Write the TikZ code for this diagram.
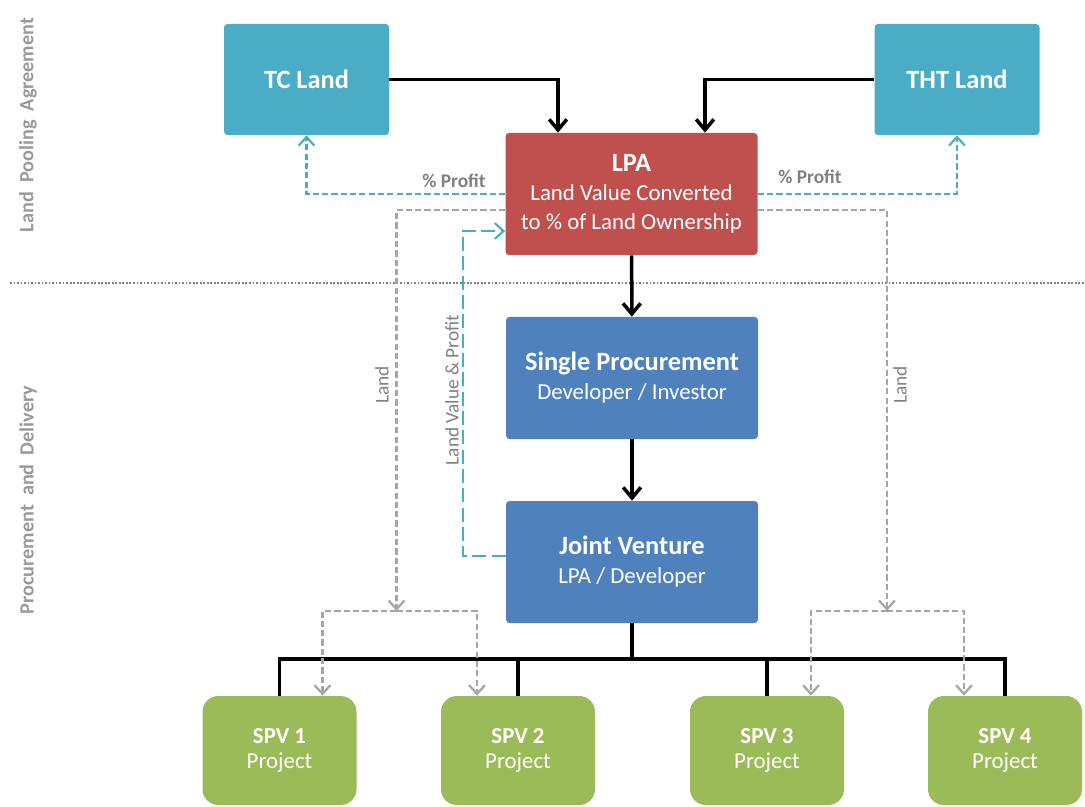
\documentclass[tikz,border=0pt]{standalone}
\usepackage{fontspec}
\setmainfont{Carlito}
\usetikzlibrary{arrows.meta}

\definecolor{landteal}{HTML}{4BACC6}
\definecolor{lpared}{HTML}{C0504D}
\definecolor{procblue}{HTML}{4F81BD}
\definecolor{spvgreen}{HTML}{9BBB59}
\definecolor{landgray}{HTML}{A6A6A6}
\definecolor{notegray}{HTML}{808080}
\definecolor{sidegray}{HTML}{999999}

\newcommand{\boxtitle}[1]{{\fontsize{15}{16.5}\selectfont\bfseries #1}}

\begin{document}
\begin{tikzpicture}[
  box/.style={rounded corners=2pt, text=white, align=center,
    font=\fontsize{13}{16.5}\selectfont},
  landbox/.style={box, fill=landteal, minimum width=3.3cm, minimum height=2.22cm,
    font=\fontsize{15}{16.5}\selectfont\bfseries},
  midbox/.style={box, minimum width=5.04cm, minimum height=2.44cm},
  spvbox/.style={box, fill=spvgreen, rounded corners=9pt, minimum width=3.08cm,
    minimum height=2.18cm, font=\fontsize{13}{14.7}\selectfont},
  flow/.style={line width=2pt, -{Straight Barb[length=6pt,width=10pt]}},
  tree/.style={line width=2pt},
  profit/.style={landteal, line width=1.2pt, dash pattern=on 3.5pt off 1.8pt,
    -{Straight Barb[length=5pt,width=9pt]}},
  land/.style={landgray, line width=1.3pt, dash pattern=on 3.5pt off 1.8pt,
    -{Straight Barb[length=5pt,width=9pt]}},
  lvp/.style={landteal, line width=1.2pt, dash pattern=on 8pt off 3pt,
    -{Straight Barb[length=5pt,width=9pt]}},
  note/.style={text=notegray, font=\fontsize{11}{13}\selectfont},
  side/.style={text=sidegray, font=\fontsize{11.5}{13}\selectfont\bfseries, rotate=90},
  sepline/.style={gray, line width=0.6pt, dash pattern=on 1pt off 1pt},
]
  \useasboundingbox (0,0) rectangle (21.7,-16.14);

  % side labels
  \node[side] (lpaside) at (0.56,-2.5) {Land~~Pooling~~Agreement};
  \node[side] (pdside) at (0.56,-10.0) {Procurement~~and~~Delivery};
  \draw[sepline] (0.2,-5.66) -- (21.7,-5.66);

  % boxes
  \node[landbox] (tc) at (6.13,-1.59) {TC Land};
  \node[landbox] (tht) at (19.14,-1.59) {THT Land};
  \node[midbox, fill=lpared] (lpa) at (12.63,-3.88)
    {\boxtitle{LPA}\\Land Value Converted\\to \% of Land Ownership};
  \node[midbox, fill=procblue] (sp) at (12.64,-7.56)
    {\boxtitle{Single Procurement}\\Developer / Investor};
  \node[midbox, fill=procblue] (jv) at (12.64,-11.24)
    {\boxtitle{Joint Venture}\\LPA / Developer};
  \node[spvbox] (spv1) at (5.59,-15.01) {\textbf{SPV 1}\\Project};
  \node[spvbox] (spv2) at (10.36,-15.01) {\textbf{SPV 2}\\Project};
  \node[spvbox] (spv3) at (15.34,-15.01) {\textbf{SPV 3}\\Project};
  \node[spvbox] (spv4) at (20.1,-15.01) {\textbf{SPV 4}\\Project};

  % labels
  \node[note, font=\fontsize{11}{13}\selectfont\bfseries] (profitl) at (9.08,-3.62) {\% Profit};
  \node[note, font=\fontsize{11}{13}\selectfont\bfseries] (profitr) at (16.2,-3.54) {\% Profit};
  \node[note, rotate=90] (landl-lbl) at (7.64,-7.7) {Land};
  \node[note, rotate=90] (landr-lbl) at (18.0,-7.7) {Land};
  \node[note, rotate=90] (lvp-lbl) at (9.04,-7.8) {Land Value \& Profit};

  % arrows
  \draw[flow] (tc) -| ([xshift=-1.47cm]lpa.north);
  \draw[flow] (tht) -| ([xshift=1.47cm]lpa.north);
  \draw[flow] (lpa) -- (sp);
  \draw[flow] (sp) -- (jv);
  \coordinate (bus) at (12.64,-13.18);
  \draw[tree] (jv) -- (bus);
  \foreach \s in {spv1,spv2,spv3,spv4}
    \draw[tree] (bus) -| (\s);

  % profit back to the land owners
  \draw[profit] (lpa) -| (tc);
  \draw[profit] (lpa) -| (tht);
  \draw[lvp] ([yshift=0.12cm]jv.west) -- ++(-0.86,0) |- ([yshift=-0.74cm]lpa.west);

  % land to the SPVs
  \coordinate (landl) at (7.93,-12.22);
  \coordinate (landr) at (17.74,-12.22);
  \draw[land] ([yshift=-0.32cm]lpa.west) -| (landl);
  \draw[land] (landl) -| ([xshift=0.86cm]spv1.north);
  \draw[land] (landl) -| ([xshift=-0.82cm]spv2.north);
  \draw[land] ([yshift=-0.32cm]lpa.east) -| (landr);
  \draw[land] (landr) -| ([xshift=0.88cm]spv3.north);
  \draw[land] (landr) -| ([xshift=-0.82cm]spv4.north);

\end{tikzpicture}
\end{document}
